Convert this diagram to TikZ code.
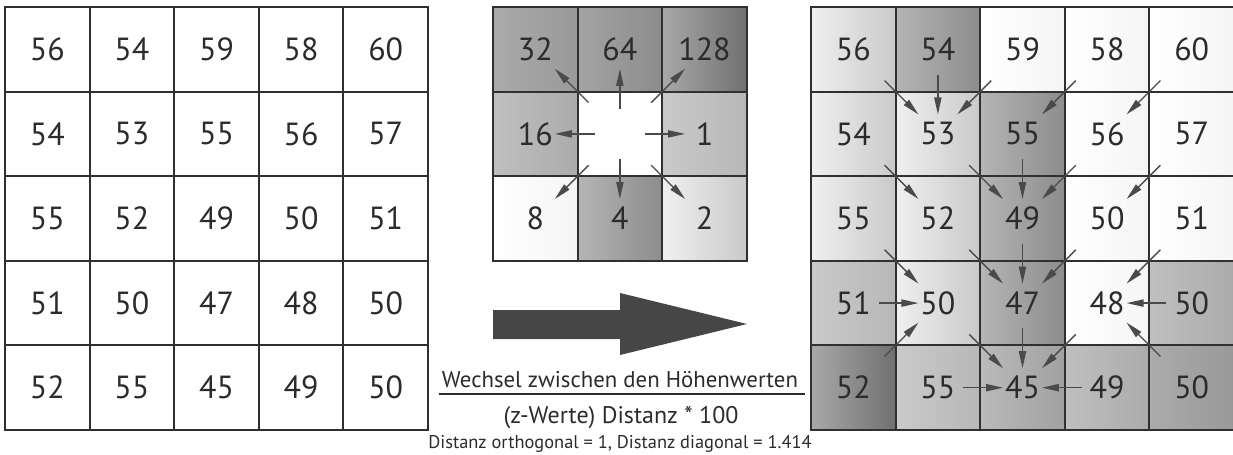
\documentclass[tikz,border=0pt]{standalone}
\usepackage{fontspec}
\setmainfont{PT Sans}
\usetikzlibrary{calc,arrows.meta}

\definecolor{ink}{HTML}{2B2B2B}
\definecolor{gridline}{HTML}{303030}
\definecolor{flow}{HTML}{4A4A4A}
\definecolor{bigarrow}{HTML}{464646}

% shading colours per flow-direction code (L = left edge, R = right edge)
\definecolor{c0L}{gray}{1.00}\definecolor{c0R}{gray}{1.00}
\definecolor{c1L}{gray}{0.79}\definecolor{c1R}{gray}{0.72}
\definecolor{c2L}{gray}{0.94}\definecolor{c2R}{gray}{0.79}
\definecolor{c4L}{gray}{0.71}\definecolor{c4R}{gray}{0.55}
\definecolor{c8L}{gray}{1.00}\definecolor{c8R}{gray}{0.96}
\definecolor{c16L}{gray}{0.75}\definecolor{c16R}{gray}{0.67}
\definecolor{c32L}{gray}{0.67}\definecolor{c32R}{gray}{0.60}
\definecolor{c64L}{gray}{0.64}\definecolor{c64R}{gray}{0.55}
\definecolor{c128L}{gray}{0.66}\definecolor{c128R}{gray}{0.44}
\definecolor{cSL}{gray}{0.73}\definecolor{cSR}{gray}{0.63}

\begin{document}
\begin{tikzpicture}[x=0.5pt,y=-0.5pt,
  cell/.style={draw=gridline, line width=1pt, minimum width=42.3pt,
    minimum height=42.3pt, inner sep=0pt, outer sep=0pt, text=ink,
    font=\fontsize{16}{18}\selectfont},
  flowarrow/.style={draw=flow, line width=0.7pt,
    -{Triangle[length=8.5pt,width=3.6pt,fill=flow]}},
  label/.style={text=ink, inner sep=0pt, anchor=base}]

\useasboundingbox (0,0) rectangle (1233,455);

% elevation grid (input)
\foreach \r/\vals in {1/{56,54,59,58,60},2/{54,53,55,56,57},3/{55,52,49,50,51},
                      4/{51,50,47,48,50},5/{52,55,45,49,50}}
  \foreach \v [count=\c] in \vals
    \node[cell] (L-\r-\c) at ({5+84.6*(\c-0.5)},{7+84.6*(\r-0.5)}) {\v};

% direction codes of the 3x3 neighbourhood
\foreach \r/\vals in {1/{32/c32,64/c64,128/c128},2/{16/c16,/c0,1/c1},3/{8/c8,4/c4,2/c2}}
  \foreach \v/\sh [count=\c] in \vals
    \node[cell, left color=\sh L, right color=\sh R]
      (M-\r-\c) at ({493+84.6*(\c-0.5)},{7+84.6*(\r-0.5)}) {\v};

\foreach \b in {1-1,1-3,3-1,3-3}
  \draw[flowarrow] ($(M-2-2)!0.37!(M-\b)$) -- ($(M-2-2)!0.77!(M-\b)$);
\foreach \b in {1-2,2-1,2-3,3-2}
  \draw[flowarrow] ($(M-2-2)!0.30!(M-\b)$) -- ($(M-2-2)!0.77!(M-\b)$);

% flow direction grid (result)
\foreach \r/\vals in {1/{56/c2,54/c4,59/c8,58/c8,60/c8},
                      2/{54/c2,53/c2,55/c4,56/c8,57/c8},
                      3/{55/c2,52/c2,49/c4,50/c8,51/c8},
                      4/{51/c1,50/c2,47/c4,48/c8,50/c16},
                      5/{52/c128,55/c1,45/cS,49/c16,50/c32}}
  \foreach \v/\sh [count=\c] in \vals
    \node[cell, left color=\sh L, right color=\sh R]
      (R-\r-\c) at ({811+84.6*(\c-0.5)},{7+84.6*(\r-0.5)}) {\v};

\foreach \a/\b in {1-1/2-2,1-3/2-2,1-4/2-3,1-5/2-4,
                   2-1/3-2,2-2/3-3,2-4/3-3,2-5/3-4,
                   3-1/4-2,3-2/4-3,3-4/4-3,3-5/4-4,
                   5-1/4-2,4-2/5-3,4-4/5-3,5-5/4-4}
  \draw[flowarrow] ($(R-\a)!0.37!(R-\b)$) -- ($(R-\a)!0.77!(R-\b)$);
\foreach \a/\b in {1-2/2-2,2-3/3-3,3-3/4-3,4-3/5-3,
                   4-1/4-2,4-5/4-4,5-2/5-3,5-4/5-3}
  \draw[flowarrow] ($(R-\a)!0.30!(R-\b)$) -- ($(R-\a)!0.77!(R-\b)$);

% block arrow
\fill[bigarrow] (493,310) -- (620,310) -- (620,293) -- (747,324)
  -- (620,355) -- (620,339) -- (493,339) -- cycle;

% formula
\node[label, font=\fontsize{11.4}{13}\selectfont] (num) at (620,387)
  {Wechsel zwischen den Höhenwerten};
\coordinate (barL) at (439,394);
\coordinate (barR) at (805,394);
\draw[ink, line width=1pt] (barL) -- (barR);
\node[label, font=\fontsize{12}{14}\selectfont] (den) at (621,423)
  {(z-Werte) Distanz * 100};
\node[label, font=\fontsize{9.2}{11}\selectfont] (note) at (620,448)
  {Distanz orthogonal = 1, Distanz diagonal = 1.414};
\end{tikzpicture}
\end{document}
